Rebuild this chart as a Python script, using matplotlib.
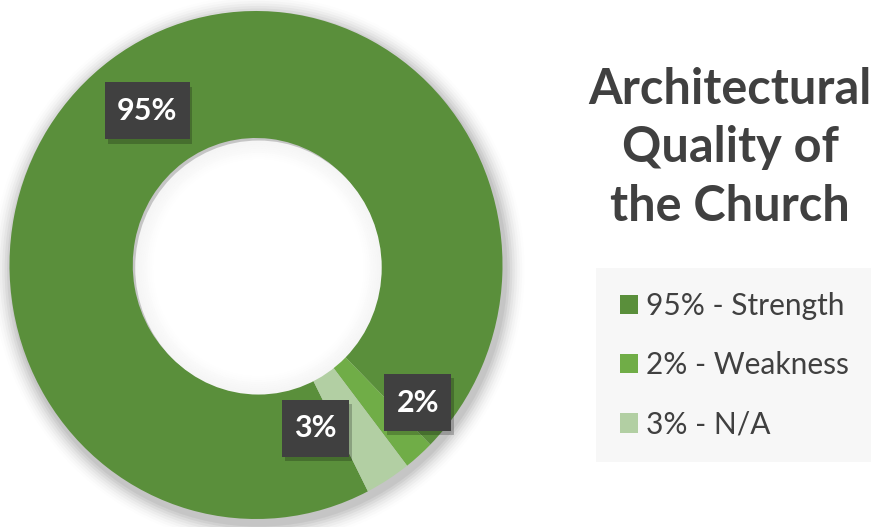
import numpy as np
import matplotlib
matplotlib.use("Agg")
from matplotlib import pyplot as plt
from matplotlib.patches import Ellipse, Rectangle
import matplotlib.patheffects as pe

plt.rcParams['font.family'] = ['Lato', 'DejaVu Sans']

categories = ['Strength', 'Weakness', 'N/A']
shares = [95, 2, 3]
colors = ['#5a8f3b', '#70ad47', '#b2cfa3']
title = 'Architectural\nQuality of\nthe Church'
# Excel nudges the two small labels off the wedge midline
label_nudge = [(0.0, 0.0), (0.16, 0.02), (-0.16, -0.01)]

W, H = 871, 527
fig = plt.figure(figsize=(W / 100, H / 100), dpi=100)
ax = fig.add_axes([0, 0, 1, 1])

# donut centre / radii in pixels (slightly taller than wide in the source)
cx, cy, rx, ry = 256, 265, 246.5, 254

start = 90 - 153  # first slice starts at 153 deg clockwise from 12 o'clock

# soft drop shadow around the ring
for i, a in enumerate(np.linspace(0.05, 0.008, 8)):
    ax.add_patch(Ellipse((0.01, -0.02), 2 + 0.02 * (i + 1), 2 + 0.02 * (i + 1),
                         facecolor='black', alpha=a, lw=0, zorder=0))

wedges, _ = ax.pie(shares, colors=colors, startangle=start, counterclock=False,
                   radius=1, wedgeprops=dict(width=0.5, linewidth=0))

# inner shadow on the hole
for i, a in enumerate(np.linspace(0.04, 0.0, 10)):
    ax.add_patch(Ellipse((0.01, -0.01), 1 - 0.016 * i, 1 - 0.016 * i,
                         facecolor='white', alpha=1, lw=0, zorder=3))
    ax.add_patch(Ellipse((0.01, -0.01), 1 - 0.016 * i, 1 - 0.016 * i,
                         facecolor='black', alpha=a, lw=0, zorder=3))
ax.add_patch(Ellipse((0.015, -0.015), 0.82, 0.82, facecolor='white', lw=0, zorder=3))

ax.set_aspect('auto')
ax.set_xlim(-cx / rx, (W - cx) / rx)
ax.set_ylim((cy - H) / ry, cy / ry)
ax.axis('off')

renderer = fig.canvas.get_renderer()
for w, s, (dx, dy) in zip(wedges, shares, label_nudge):
    mid = np.deg2rad((w.theta1 + w.theta2) / 2)
    x = 0.75 * np.cos(mid) + dx
    y = 0.75 * np.sin(mid) + dy
    t = ax.text(x, y, f'{s}%', fontsize=22, fontweight='bold', color='white',
                ha='center', va='center', zorder=6)
    tw = t.get_window_extent(renderer).width
    bw, bh = (tw + 24) / rx, 57 / ry
    box = Rectangle((x - bw / 2, y - bh / 2), bw, bh, facecolor='#404040', lw=0, zorder=5)
    box.set_path_effects([pe.SimplePatchShadow(offset=(2, -3), alpha=0.22, shadow_rgbFace='black'),
                          pe.Normal()])
    ax.add_patch(box)

fig.text(730 / W, 1 - 148 / H, title, fontsize=35, fontweight='bold', color='#404040',
         ha='center', va='center', linespacing=1.36)

labels = [f'{s}% - {c}' for s, c in zip(shares, categories)]
leg = fig.legend(wedges, labels, loc='upper left', bbox_to_anchor=(596 / W, 1 - 268 / H),
                 frameon=True, facecolor='#f6f6f6', edgecolor='none', fancybox=False,
                 fontsize=21.5, labelcolor='#404040', handlelength=0.62, handleheight=0.62,
                 handletextpad=0.25, labelspacing=1.05, borderpad=0.8, borderaxespad=0)

fig.savefig('out.png', dpi=100)
